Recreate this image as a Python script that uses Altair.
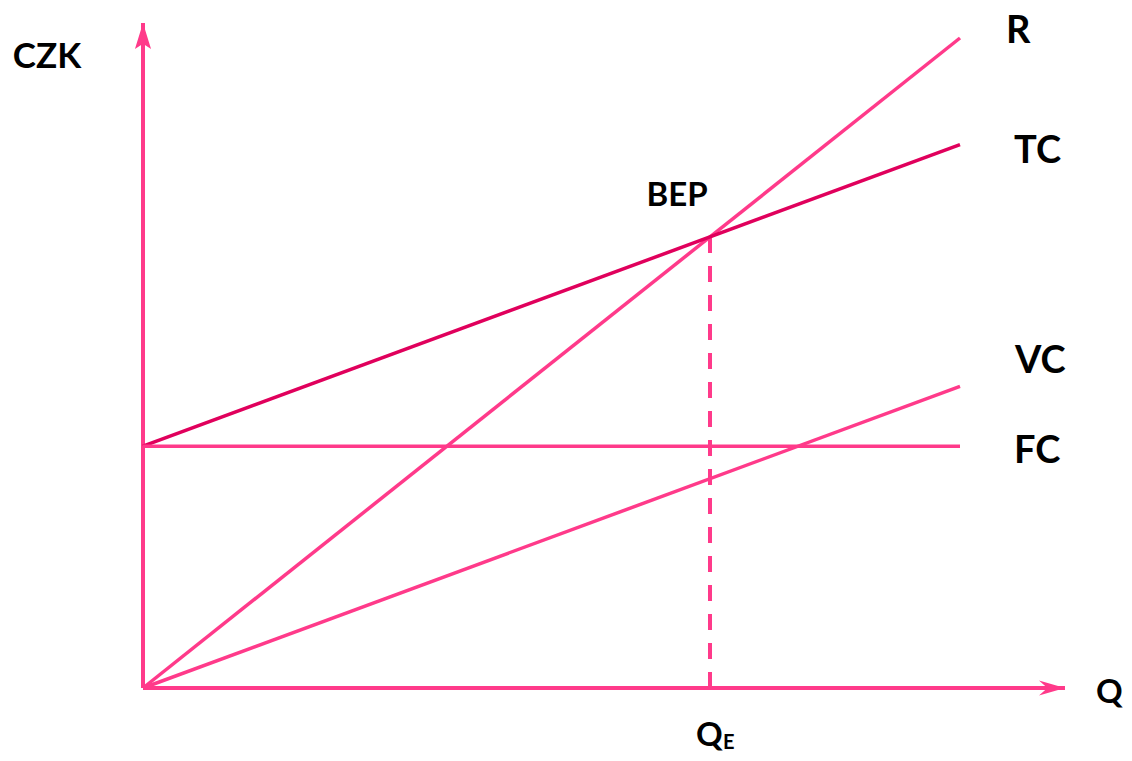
import altair as alt
import pandas as pd

# ---- data ----
series = ["R", "TC", "VC", "FC"]
q_start = [0, 0, 0, 0]
q_end = [100, 100, 100, 100]
v_start = [0, 37.2, 0, 37.2]
v_end = [100, 83.6, 46.4, 37.2]
q_e = 69.4
bep_value = 69.4
q_axis_end = 112.85
czk_axis_end = 102.3

PINK = "#ff3a8a"
DARK = "#e0005c"
FONT = "Lato"

rows = []
for s, qa, qb, va, vb in zip(series, q_start, q_end, v_start, v_end):
    rows.append({"series": s, "Q": qa, "V": va})
    rows.append({"series": s, "Q": qb, "V": vb})
lines_df = pd.DataFrame(rows)
ends_df = pd.DataFrame({"series": series, "Q": q_end, "V": v_end})

W, H = 1116, 745
PX_Q, PX_V = 8.17, 6.5
OX, OY = 135, 680
X = alt.X("Q:Q", scale=alt.Scale(domain=[-OX / PX_Q, (W - OX) / PX_Q], nice=False, zero=False), axis=None)
Y = alt.Y("V:Q", scale=alt.Scale(domain=[-(H - OY) / PX_V, OY / PX_V], nice=False, zero=False), axis=None)

base = alt.Chart(lines_df)

lines = base.mark_line(strokeWidth=3.5, strokeCap="butt").encode(
    x=X, y=Y,
    detail="series:N",
    color=alt.Color("series:N", scale=alt.Scale(domain=series, range=[PINK, DARK, PINK, PINK]), legend=None),
)

axes_df = pd.DataFrame({
    "Q": [0, 0], "V": [0, 0],
    "Q2": [0, q_axis_end], "V2": [czk_axis_end, 0],
})
axes = alt.Chart(axes_df).mark_rule(color=PINK, strokeWidth=4).encode(
    x=X, y=Y, x2="Q2:Q", y2="V2:Q"
)

arrow_up = alt.Chart(pd.DataFrame({"Q": [0], "V": [czk_axis_end]})).mark_point(
    shape="M0,0L0.62,2L0,1.6L-0.62,2Z", size=676, filled=True, color=PINK, opacity=1, strokeWidth=0
).encode(x=X, y=Y)

arrow_right = alt.Chart(pd.DataFrame({"Q": [q_axis_end], "V": [0]})).mark_point(
    shape="M0,0L-2,-0.58L-1.35,0L-2,0.58Z", size=676, filled=True, color=PINK, opacity=1, strokeWidth=0
).encode(x=X, y=Y)

dash = alt.Chart(pd.DataFrame({"Q": [q_e], "V": [0], "V2": [bep_value]})).mark_rule(
    color=PINK, strokeWidth=4, strokeDash=[16, 13]
).encode(x=X, y=Y, y2="V2:Q")

def label(df, text, size, dx, dy, align="left"):
    return alt.Chart(df).mark_text(
        text=text, font=FONT, fontWeight="bold", fontSize=size, color="black",
        align=align, baseline="alphabetic", dx=dx, dy=dy
    ).encode(x=X, y=Y)

def end_of(s):
    return ends_df[ends_df.series == s]

lab_R = label(end_of("R"), "R", 38, 46, 5)
lab_TC = label(end_of("TC"), "TC", 38, 54, 18)
lab_VC = label(end_of("VC"), "VC", 38, 55, -13)
lab_FC = label(end_of("FC"), "FC", 38, 54, 17)

bep_df = pd.DataFrame({"Q": [q_e], "V": [bep_value]})
lab_BEP = label(bep_df, "BEP", 33, -33, -31, align="center")

qe_df = pd.DataFrame({"Q": [q_e], "V": [0]})
lab_QE = label(qe_df, "Q", 33, -14, 58)
lab_E = label(qe_df, "E", 20, 13, 61)

q_df = pd.DataFrame({"Q": [q_axis_end], "V": [0]})
lab_Q = label(q_df, "Q", 33, 31, 15)

czk_df = pd.DataFrame({"Q": [0], "V": [czk_axis_end]})
lab_CZK = label(czk_df, "CZK", 35, -96, 45, align="center")

chart = alt.layer(
    axes, dash, lines, arrow_up, arrow_right,
    lab_R, lab_TC, lab_VC, lab_FC, lab_BEP, lab_QE, lab_E, lab_Q, lab_CZK
).properties(
    width=W, height=H, padding=0, autosize=alt.AutoSizeParams(type="none"),
    background="white"
).configure_view(stroke=None)

chart.save("out.html", embed_options={"renderer": "svg", "actions": False})
